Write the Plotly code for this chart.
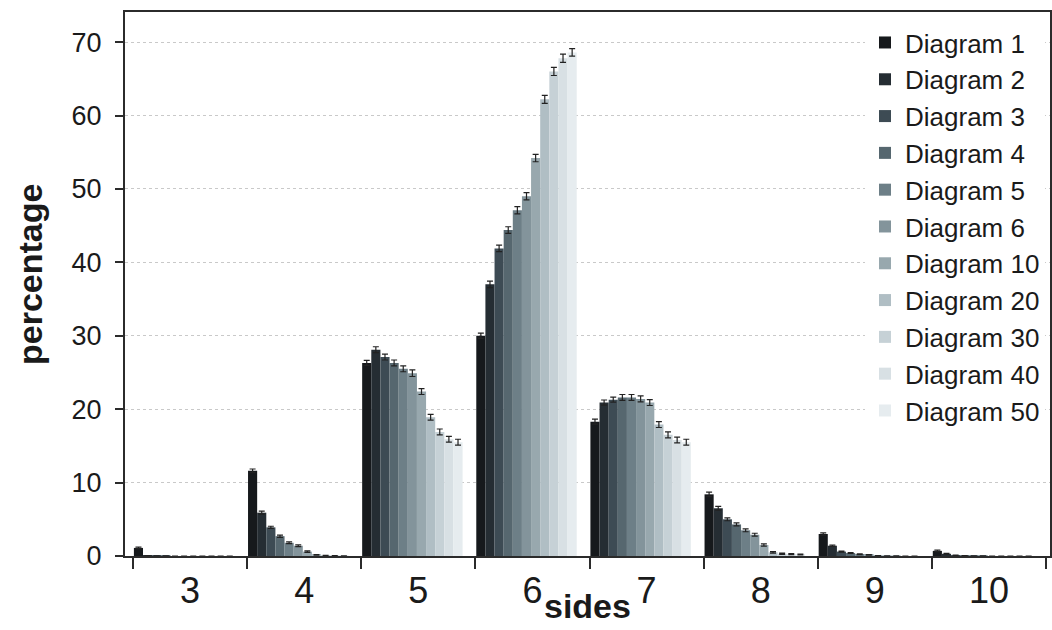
import plotly.graph_objects as go

sides = [3, 4, 5, 6, 7, 8, 9, 10]
side_labels = ["3", "4", "5", "6", "7", "8", "9", "10"]

names = ["Diagram 1", "Diagram 2", "Diagram 3", "Diagram 4", "Diagram 5", "Diagram 6",
         "Diagram 10", "Diagram 20", "Diagram 30", "Diagram 40", "Diagram 50"]

d1 = [1.1, 11.6, 26.3, 30.0, 18.3, 8.4, 3.0, 0.7]
d2 = [0.05, 5.9, 28.1, 37.0, 20.9, 6.5, 1.4, 0.3]
d3 = [0.02, 3.9, 27.1, 41.9, 21.3, 5.0, 0.6, 0.1]
d4 = [0.01, 2.7, 26.3, 44.4, 21.6, 4.3, 0.4, 0.05]
d5 = [0.0, 1.8, 25.5, 47.1, 21.6, 3.5, 0.25, 0.02]
d6 = [0.0, 1.4, 24.9, 49.0, 21.4, 2.9, 0.15, 0.01]
d10 = [0.0, 0.6, 22.4, 54.2, 20.9, 1.5, 0.05, 0.0]
d20 = [0.0, 0.15, 18.9, 62.2, 17.9, 0.5, 0.02, 0.0]
d30 = [0.0, 0.05, 16.9, 66.0, 16.5, 0.3, 0.01, 0.0]
d40 = [0.0, 0.02, 15.9, 67.8, 15.8, 0.25, 0.0, 0.0]
d50 = [0.0, 0.01, 15.5, 68.6, 15.5, 0.2, 0.0, 0.0]

e1 = [0.1, 0.25, 0.35, 0.35, 0.35, 0.3, 0.15, 0.1]
e2 = [0.02, 0.2, 0.4, 0.45, 0.35, 0.25, 0.1, 0.05]
e3 = [0.01, 0.15, 0.4, 0.45, 0.35, 0.2, 0.08, 0.03]
e4 = [0.01, 0.15, 0.4, 0.45, 0.4, 0.2, 0.05, 0.02]
e5 = [0.0, 0.12, 0.4, 0.5, 0.4, 0.2, 0.05, 0.01]
e6 = [0.0, 0.12, 0.45, 0.5, 0.4, 0.2, 0.04, 0.01]
e10 = [0.0, 0.1, 0.4, 0.5, 0.4, 0.15, 0.02, 0.0]
e20 = [0.0, 0.05, 0.4, 0.55, 0.4, 0.1, 0.01, 0.0]
e30 = [0.0, 0.03, 0.4, 0.55, 0.4, 0.08, 0.01, 0.0]
e40 = [0.0, 0.02, 0.4, 0.55, 0.4, 0.08, 0.0, 0.0]
e50 = [0.0, 0.01, 0.4, 0.5, 0.4, 0.06, 0.0, 0.0]

values = [d1, d2, d3, d4, d5, d6, d10, d20, d30, d40, d50]
errors = [e1, e2, e3, e4, e5, e6, e10, e20, e30, e40, e50]
colors = ["#16191c", "#252d33", "#3d4b54", "#56676f", "#6d7f87", "#83949b",
          "#98a8ae", "#b0bec4", "#c6d1d6", "#d8e0e4", "#e6ecef"]

bar_w = 0.08
start = -0.5 + 0.008
FONT = "Liberation Sans, Arial, Helvetica, sans-serif"
AX = "#2b2b2b"

fig = go.Figure()
for k, (nm, v, e, c) in enumerate(zip(names, values, errors, colors)):
    fig.add_trace(go.Bar(
        x=sides, y=v, name=nm, width=bar_w, offset=start + k * bar_w,
        marker=dict(color=c, line=dict(width=0)),
        error_y=dict(type="data", array=e, visible=True, color="#222222",
                     thickness=1.2, width=3),
        legendgroup=nm,
    ))

fig.update_layout(
    width=1052, height=630,
    margin=dict(l=125, r=2, t=12, b=74, autoexpand=False),
    paper_bgcolor="white", plot_bgcolor="white",
    barmode="overlay",
    font=dict(family=FONT, color="#1a1a1a"),
    showlegend=True,
    legend=dict(x=0.80, y=0.987, xanchor="left", yanchor="top",
                bgcolor="white", borderwidth=0,
                font=dict(size=26, family=FONT, color="#1a1a1a"),
                tracegroupgap=0, traceorder="normal"),
    xaxis=dict(
        range=[2.43, 10.535], automargin=False,
        tickmode="array", tickvals=sides, ticktext=side_labels,
        ticks="outside", ticklen=2, tickcolor="rgba(0,0,0,0)",
        tickfont=dict(size=36, family=FONT, color="#1a1a1a"),
        showline=True, linecolor=AX, linewidth=2, mirror=True,
        showgrid=False, zeroline=False,
        minor=dict(tick0=2.5, dtick=1, ticks="outside", ticklen=11,
                   tickwidth=2, tickcolor=AX, showgrid=False),
    ),
    yaxis=dict(
        range=[0, 74.1], tickmode="linear", tick0=0, dtick=10, automargin=False,
        ticks="outside", ticklen=8, tickwidth=2, tickcolor=AX,
        tickfont=dict(size=27, family=FONT, color="#1a1a1a"),
        ticklabelstandoff=8,
        showline=True, linecolor=AX, linewidth=2, mirror=True,
        showgrid=True, gridcolor="#c9c9c9", griddash="dot", gridwidth=1,
        zeroline=False,
    ),
    annotations=[
        dict(text="<b>sides</b>", xref="paper", yref="paper", x=0.5, y=0,
             xanchor="center", yanchor="middle", yshift=-50, showarrow=False,
             font=dict(size=34, family=FONT, color="#1a1a1a")),
        dict(text="<b>percentage</b>", xref="paper", yref="paper", x=0, y=0.5,
             xanchor="center", yanchor="middle", xshift=-95, yshift=9,
             textangle=-90, showarrow=False,
             font=dict(size=34, family=FONT, color="#1a1a1a")),
    ],
)

fig.write_html("out.html", config={"displayModeBar": False},
               post_script="document.body.style.margin='0';")
